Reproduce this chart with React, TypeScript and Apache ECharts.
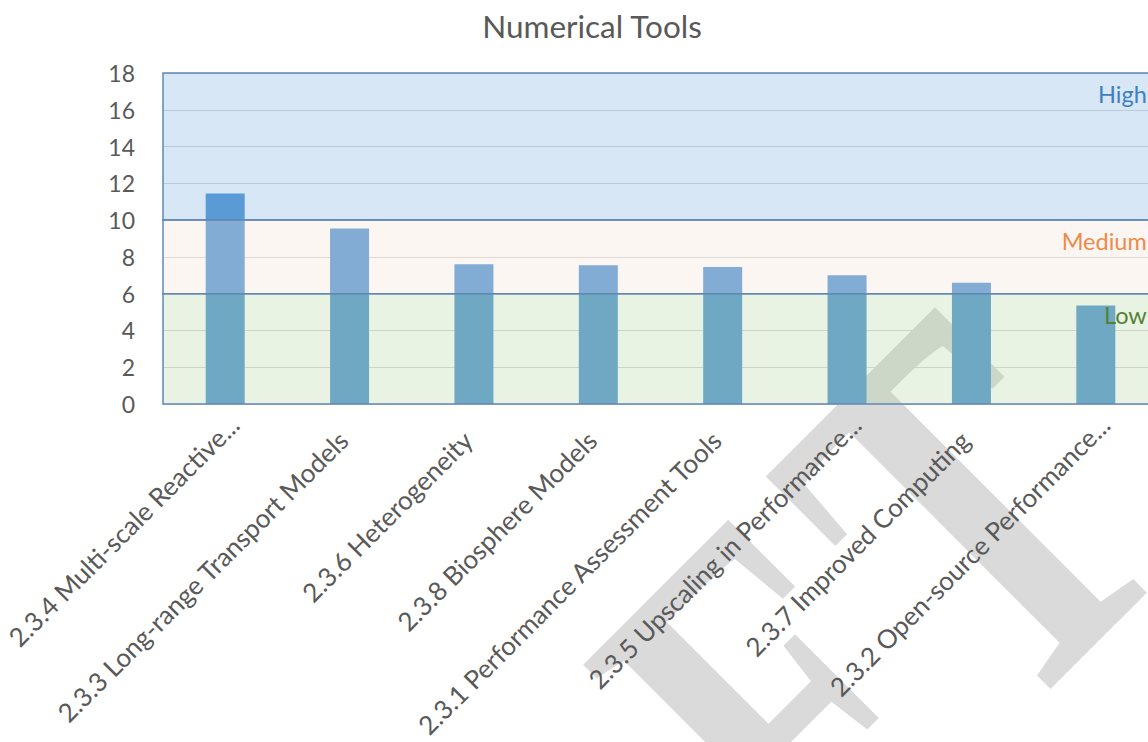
import React, { useEffect, useRef } from "react";
import * as echarts from "echarts";

const categories = [
  "2.3.4 Multi-scale Reactive...",
  "2.3.3 Long-range Transport Models",
  "2.3.6 Heterogeneity",
  "2.3.8 Biosphere Models",
  "2.3.1 Performance Assessment Tools",
  "2.3.5 Upscaling in Performance...",
  "2.3.7 Improved Computing",
  "2.3.2 Open-source Performance...",
];
const values = [11.45, 9.55, 7.6, 7.55, 7.45, 7.0, 6.6, 5.35];

const bandNames = ["High", "Medium", "Low"];
const bandFrom = [10, 6, 0];
const bandTo = [18, 10, 6];
const bandFill = ["rgba(91,155,213,0.24)", "rgba(245,222,210,0.26)", "rgba(169,209,142,0.25)"];
const bandText = ["#3f80c1", "#ef8a48", "#548235"];

const yMin = 0;
const yMax = 18;
const yStep = 2;

const FONT = "Lato";

const wmStyle = {
  fontFamily: "Liberation Serif",
  fontWeight: "bold",
  fontSize: 537,
  fill: "#dadada",
  align: "right",
  verticalAlign: "middle",
};

export default function App() {
  const ref = useRef<HTMLDivElement>(null);
  useEffect(() => {
    if (!ref.current) return;
    const chart = echarts.init(ref.current, undefined, { renderer: "svg" });
    const markData = bandNames.map((n, i) => [
      {
        name: n,
        yAxis: bandFrom[i],
        itemStyle: { color: bandFill[i], borderColor: "#6088b6", borderWidth: 1.5 },
        label: {
          show: true,
          position: "insideTopRight",
          distance: 10,
          offset: [-2, 0],
          color: bandText[i],
          fontFamily: FONT,
          fontSize: 23.5,
        },
      },
      { yAxis: bandTo[i] },
    ]);
    chart.setOption({
      animation: false,
      title: {
        text: "Numerical Tools",
        left: 587,
        top: 5,
        textAlign: "center",
        textStyle: { fontFamily: FONT, fontSize: 31.5, fontWeight: "normal", color: "#595959" },
      },
      grid: {
        left: 163,
        top: 73,
        width: 995,
        height: 331,
        containLabel: false,
        outerBoundsMode: "none",
      },
      xAxis: {
        type: "category",
        data: categories,
        axisLine: { show: false },
        axisTick: { show: false },
        splitLine: { show: false },
        axisLabel: {
          interval: 0,
          rotate: 45,
          margin: 7,
          align: "right",
          verticalAlign: "top",
          hideOverlap: false,
          formatter: (v: string) => (v.endsWith("...") ? `{t|${v}}` : `{n|${v}}`),
          rich: {
            t: { fontFamily: FONT, fontSize: 26, color: "#595959" },
            n: { fontFamily: FONT, fontSize: 26, color: "#595959", padding: [0, 22, 0, 0] },
          },
        },
      },
      yAxis: {
        type: "value",
        min: yMin,
        max: yMax,
        interval: yStep,
        axisLine: { show: false },
        axisTick: { show: false },
        splitLine: { lineStyle: { color: "#d9d9d9", width: 1 } },
        axisLabel: { fontFamily: FONT, fontSize: 23, color: "#595959", margin: 28 },
      },
      series: [
        {
          type: "bar",
          data: values,
          barWidth: 39,
          z: 2,
          itemStyle: { color: "#5b9bd5" },
          markArea: { z: 3, silent: true, data: markData },
        },
      ],
      graphic: {
        elements: [
          {
            type: "group",
            x: 1193,
            y: 546,
            rotation: Math.PI / 4,
            z: -10,
            silent: true,
            children: [
              {
                type: "text",
                x: -8,
                y: -181,
                scaleX: 0.7,
                z: -10,
                style: { ...wmStyle, text: "T" },
              },
              {
                type: "text",
                x: -292,
                y: -177,
                scaleX: 0.7,
                z: -10,
                style: { ...wmStyle, text: "DRAF" },
              },
            ],
          },
        ],
      },
    });
    return () => chart.dispose();
  }, []);
  return (
    <div
      ref={ref}
      style={{ position: "absolute", left: 0, top: 0, width: 1148, height: 742 }}
    />
  );
}
